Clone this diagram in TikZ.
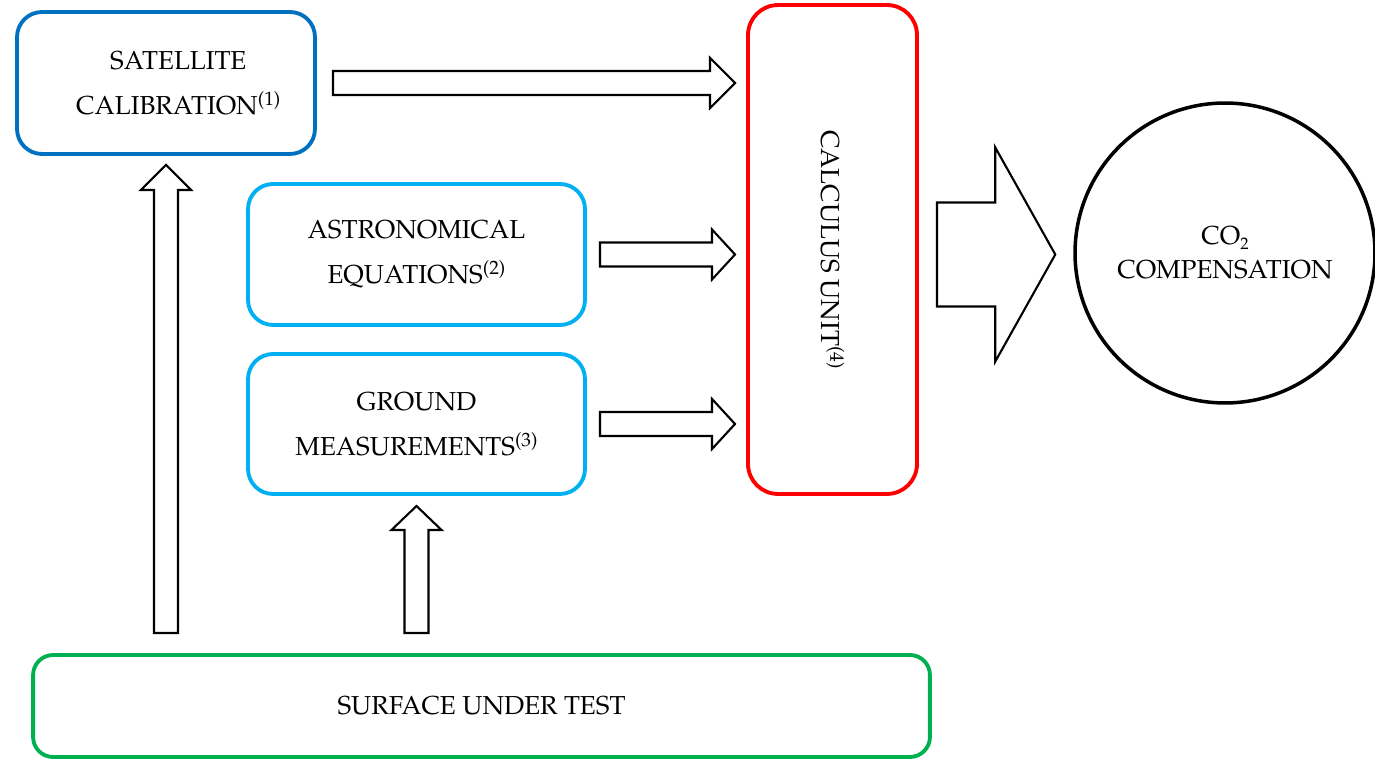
\documentclass[tikz,border=0pt]{standalone}
\usepackage[T1]{fontenc}
\usepackage{mathpazo}
\usepackage{graphicx}
\usetikzlibrary{calc}

\definecolor{satblue}{RGB}{0,112,192}
\definecolor{skyblue}{RGB}{0,176,240}
\definecolor{unitred}{RGB}{255,0,0}
\definecolor{testgreen}{RGB}{0,176,80}

% block arrows: start, tip, shaft half width, head half width, head length
\newcommand{\harrow}[5]{%
  \draw[blockarrow] ($(#1)+(0,-#3)$) -- ($(#2)+(-#5,-#3)$) -- ($(#2)+(-#5,-#4)$) -- (#2)
    -- ($(#2)+(-#5,#4)$) -- ($(#2)+(-#5,#3)$) -- ($(#1)+(0,#3)$) -- cycle;}
\newcommand{\varrow}[5]{%
  \draw[blockarrow] ($(#1)+(-#3,0)$) -- ($(#2)+(-#3,#5)$) -- ($(#2)+(-#4,#5)$) -- (#2)
    -- ($(#2)+(#4,#5)$) -- ($(#2)+(#3,#5)$) -- ($(#1)+(#3,0)$) -- cycle;}
% note marks and small subscript
\newcommand{\notemark}[1]{\raisebox{0.75ex}{\fontsize{11pt}{11pt}\selectfont(#1)}}
\newcommand{\smallsub}[1]{\raisebox{-0.35ex}{\fontsize{9.5pt}{9.5pt}\selectfont #1}}

\begin{document}
\begin{tikzpicture}[x=0.02cm, y=-0.02cm,
    box/.style={rectangle, draw, line width=2.2pt, rounded corners=0.5cm, align=center,
      inner sep=0pt, outer sep=0pt, font=\fontsize{14.8pt}{25.6pt}\selectfont},
    blockarrow/.style={draw=black, line width=1.2pt, fill=white, line join=miter}]
    \useasboundingbox (0,0) rectangle (1375,759);

    % Inputs
    \node[box, draw=satblue, minimum width=5.96cm, minimum height=2.84cm] (sat) at (166,83) {\hspace*{14pt}SATELLITE\\\hspace*{14pt}CALIBRATION\notemark{1}};
    \node[box, draw=skyblue, minimum width=6.74cm, minimum height=2.82cm] (astro) at (416.5,254.5) {ASTRONOMICAL\\EQUATIONS\notemark{2}};
    \node[box, draw=skyblue, minimum width=6.74cm, minimum height=2.8cm] (ground) at (416.5,424) {GROUND\\MEASUREMENTS\notemark{3}};

    % Calculus unit
    \node[box, draw=unitred, rounded corners=0.6cm, minimum width=3.38cm, minimum height=9.78cm] (calc) at (832.5,249.5) {\rotatebox{-90}{CALCULUS UNIT\notemark{4}}};

    % Output
    \node[circle, draw, line width=2pt, minimum size=6cm, inner sep=0pt, align=center,
      font=\fontsize{14.8pt}{25.6pt}\selectfont] (co2) at (1225,253) {CO\smallsub{2}\\[-6.3pt]COMPENSATION};

    % Surface
    \node[box, draw=testgreen, rounded corners=0.4cm, minimum width=17.94cm, minimum height=2.04cm] (surf) at (481.5,706) {SURFACE UNDER TEST};

    % Arrows
    \harrow{$(sat.east)+(18,0)$}{$(sat.east -| calc.west)+(-13,0)$}{12}{25}{25}
    \harrow{$(astro.east)+(15,0)$}{$(astro.east -| calc.west)+(-13,0)$}{12}{25}{23}
    \harrow{$(ground.east)+(15,0)$}{$(ground.east -| calc.west)+(-13,0)$}{12}{25}{23}
    \harrow{$(astro.east -| calc.east)+(20,0)$}{$(astro.east -| co2.west)+(-18,0)$}{52}{107}{60}
    \varrow{$(surf.north -| sat.south)+(0,-22)$}{$(sat.south)+(0,11)$}{12}{25}{25}
    \varrow{$(surf.north -| ground.south)+(0,-22)$}{$(ground.south)+(0,12)$}{12}{25}{24}
\end{tikzpicture}
\end{document}
